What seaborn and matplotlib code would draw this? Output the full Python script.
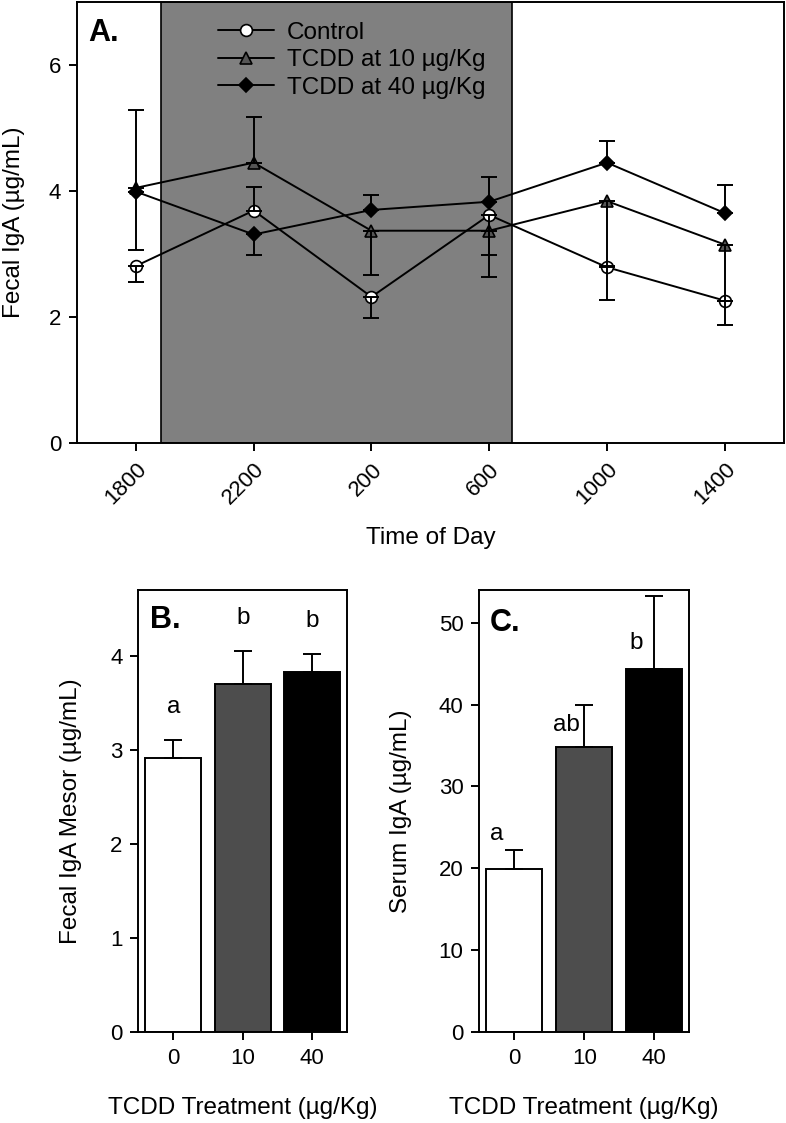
import numpy as np
import pandas as pd
import matplotlib
matplotlib.use("Agg")
import matplotlib.pyplot as plt
import seaborn as sns

# ---- panel A: fecal IgA over the day ----
times = ['1800', '2200', '200', '600', '1000', '1400']

ctrl_mean = [2.81, 3.69, 2.32, 3.62, 2.79, 2.26]
ctrl_lo = [0.26, 0.0, 0.33, 0.63, 0.52, 0.39]
ctrl_hi = [0.0, 0.37, 0.0, 0.0, 0.0, 0.0]

t10_mean = [4.05, 4.45, 3.37, 3.37, 3.84, 3.15]
t10_lo = [0.0, 0.0, 0.71, 0.73, 1.03, 0.89]
t10_hi = [1.23, 0.72, 0.0, 0.0, 0.0, 0.0]

t40_mean = [3.99, 3.31, 3.70, 3.83, 4.45, 3.65]
t40_lo = [0.92, 0.32, 0.0, 0.0, 0.0, 0.0]
t40_hi = [0.0, 0.0, 0.23, 0.39, 0.35, 0.45]

dark_start, dark_end = 0.21, 3.19

# ---- panels B and C ----
doses = ['0', '10', '40']
mesor = [2.91, 3.70, 3.83]
mesor_err = [0.19, 0.35, 0.19]
mesor_letters = ['a', 'b', 'b']

serum = [19.9, 34.8, 44.4]
serum_err = [2.3, 5.2, 8.9]
serum_letters = ['a', 'ab', 'b']

bar_colors = ['white', '#4d4d4d', 'black']

sns.set_style('ticks')
plt.rcParams['font.family'] = ['Liberation Sans', 'DejaVu Sans']
plt.rcParams['text.color'] = 'black'
plt.rcParams['axes.labelcolor'] = 'black'
plt.rcParams['xtick.color'] = 'black'
plt.rcParams['ytick.color'] = 'black'
plt.rcParams['axes.linewidth'] = 1.4
plt.rcParams['xtick.major.width'] = 1.4
plt.rcParams['ytick.major.width'] = 1.4
plt.rcParams['xtick.major.size'] = 5.5
plt.rcParams['ytick.major.size'] = 5.5
plt.rcParams['xtick.major.pad'] = 6
plt.rcParams['ytick.major.pad'] = 6
plt.rcParams['xtick.labelsize'] = 16
plt.rcParams['ytick.labelsize'] = 16

fig = plt.figure(figsize=(7.86, 11.23), dpi=100)
axA = fig.add_axes([0.098, 0.6055, 0.899, 0.3927])
axB = fig.add_axes([0.1762, 0.0813, 0.2653, 0.3933])
axC = fig.add_axes([0.610, 0.0813, 0.2665, 0.3933])

xpos = np.arange(len(times))

axA.axvspan(dark_start, dark_end, facecolor='#808080', edgecolor='black', lw=1.2, zorder=0)

series = [
    ('Control', ctrl_mean, ctrl_lo, ctrl_hi, 'o', 'white', 8.5),
    ('TCDD at 10 µg/Kg', t10_mean, t10_lo, t10_hi, '^', '#555555', 9),
    ('TCDD at 40 µg/Kg', t40_mean, t40_lo, t40_hi, 'D', 'black', 7.5),
]

for name, mean, lo, hi, mk, fc, ms in series:
    sns.lineplot(x=xpos, y=mean, ax=axA, color='black', lw=1.4, marker=mk,
                 markersize=ms, markerfacecolor=fc, markeredgecolor='black',
                 markeredgewidth=1.2, label=name)

for name, mean, lo, hi, mk, fc, ms in series:
    mean = np.array(mean)
    lo = np.array(lo)
    hi = np.array(hi)
    up = hi > 0
    dn = lo > 0
    axA.errorbar(xpos[up], mean[up], yerr=[np.zeros(up.sum()), hi[up]], fmt='none',
                 ecolor='black', elinewidth=1.4, capsize=5.5, capthick=1.4, zorder=3)
    axA.errorbar(xpos[dn], mean[dn], yerr=[lo[dn], np.zeros(dn.sum())], fmt='none',
                 ecolor='black', elinewidth=1.4, capsize=5.5, capthick=1.4, zorder=3)

axA.set_xlim(-0.5, 5.5)
axA.set_ylim(0, 7)
axA.set_yticks([0, 2, 4, 6])
axA.set_xticks(xpos)
axA.set_xticklabels(times, rotation=45, ha='right', rotation_mode='anchor')
axA.set_xlabel('Time of Day', fontsize=17.5)
axA.set_ylabel('Fecal IgA (µg/mL)', fontsize=17.5)
axA.yaxis.set_label_coords(-0.074, 0.5)
axA.xaxis.set_label_coords(0.5, -0.19)
axA.text(0.016, 0.93, 'A.', transform=axA.transAxes, fontsize=22,
         fontweight='bold', va='center', ha='left')
axA.legend(loc='upper left', bbox_to_anchor=(0.199, 0.955), frameon=False,
           fontsize=17.5, handlelength=2.3, handletextpad=0.55, labelspacing=0.22,
           borderpad=0, borderaxespad=0)

# ---- bar panels ----
def bar_panel(ax, vals, errs, ylabel, ymax, yticks):
    sns.barplot(x=doses, y=vals, hue=doses, palette=bar_colors, order=doses,
                hue_order=doses, legend=False, edgecolor='black', linewidth=1.4,
                width=0.8, ax=ax)
    ax.errorbar(np.arange(len(vals)), vals, yerr=[np.zeros(len(vals)), errs],
                fmt='none', ecolor='black', elinewidth=1.4, capsize=6.5,
                capthick=1.4, zorder=3)
    ax.set_xlim(-0.5, 2.5)
    ax.set_ylim(0, ymax)
    ax.set_yticks(yticks)
    ax.set_xlabel('TCDD Treatment (µg/Kg)', fontsize=17.5)
    ax.set_ylabel(ylabel, fontsize=17.5)
    ax.xaxis.set_label_coords(0.5, -0.148)

bar_panel(axB, mesor, mesor_err, 'Fecal IgA Mesor (µg/mL)', 4.7, [0, 1, 2, 3, 4])
axB.yaxis.set_label_coords(-0.271, 0.5)
for i, lab in enumerate(mesor_letters):
    axB.text(i, mesor[i] + mesor_err[i] + 0.35, lab, fontsize=17.5,
             ha='center', va='center')
axB.text(0.055, 0.932, 'B.', transform=axB.transAxes, fontsize=22,
         fontweight='bold', va='center', ha='left')

bar_panel(axC, serum, serum_err, 'Serum IgA (µg/mL)', 54, [0, 10, 20, 30, 40, 50])
axC.yaxis.set_label_coords(-0.322, 0.5)
letter_y_c = [24.2, 37.5, 47.5]
for i, lab in enumerate(serum_letters):
    axC.text(i - 0.25, letter_y_c[i], lab, fontsize=17.5, ha='center', va='center')
axC.text(0.05, 0.926, 'C.', transform=axC.transAxes, fontsize=22,
         fontweight='bold', va='center', ha='left')

for ax in (axA, axB, axC):
    for sp in ax.spines.values():
        sp.set_visible(True)
        sp.set_color('black')

fig.savefig('out.png', dpi=100)
